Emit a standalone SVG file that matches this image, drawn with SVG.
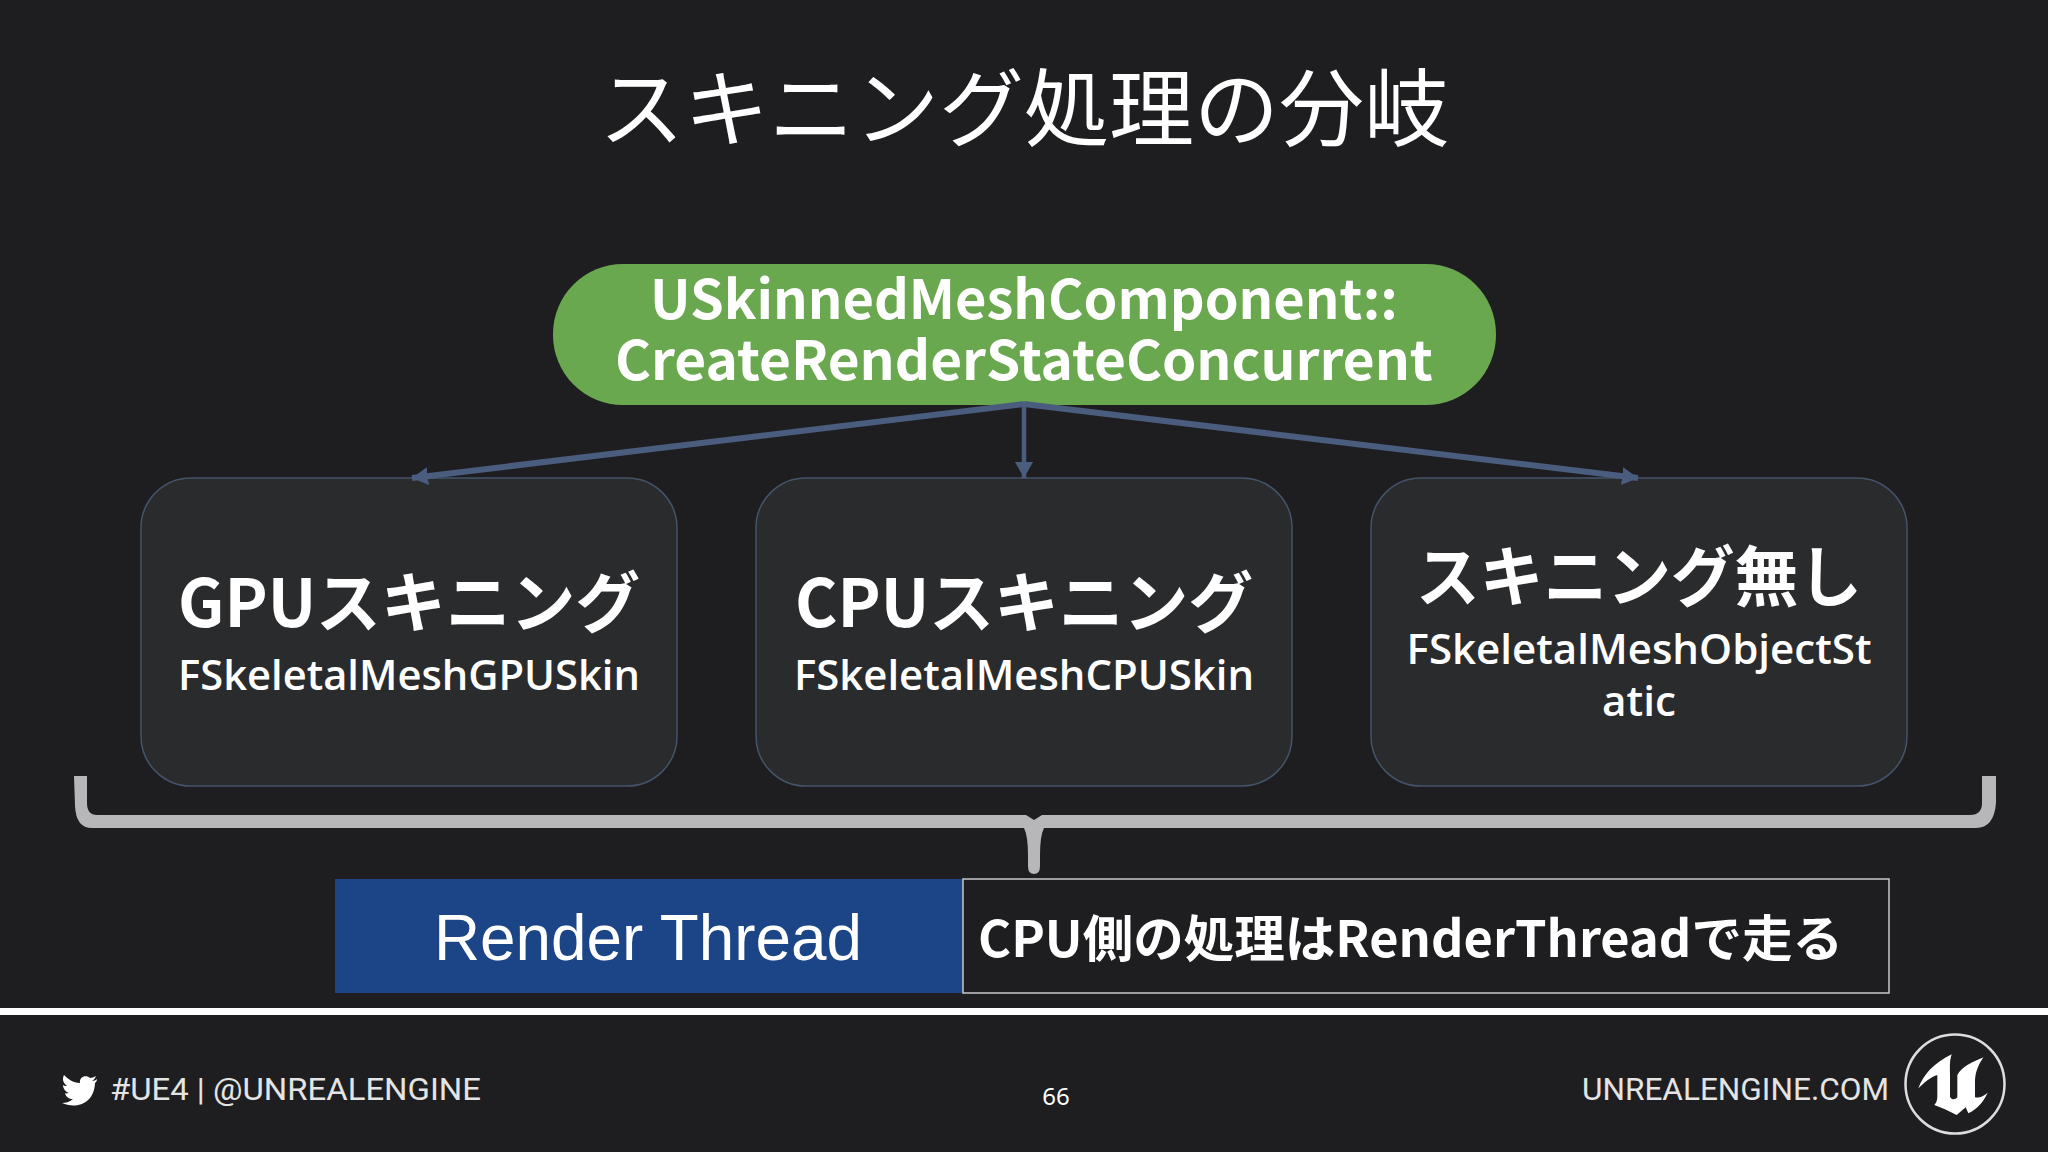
<svg xmlns="http://www.w3.org/2000/svg" width="2048" height="1152" viewBox="0 0 2048 1152">
<style>
text{fill:#fff;font-family:"Noto Sans CJK JP","Noto Sans",sans-serif}
.b{font-weight:700}
.m{text-anchor:middle}
.box{fill:#2a2b2d;stroke:#44546a;stroke-width:1.5}
.h{font-size:66px;font-weight:700;text-anchor:middle}
.s{font-size:41px;font-weight:600;text-anchor:middle;font-family:"Open Sans","Noto Sans",sans-serif}
.f{font-family:"Roboto","Liberation Sans",sans-serif;font-size:32px;fill:#e4e4e4}
.c{fill:none;stroke:#4a5d7e}
</style>
<defs>
<marker id="a" markerUnits="userSpaceOnUse" markerWidth="18" markerHeight="20" refX="16" refY="10" orient="auto"><path d="M0 1L16 10L0 19Z" fill="#4a5d7e"/></marker>
</defs>
<rect width="2048" height="1152" fill="#1e1e20"/>
<text id="title" class="m" x="1024" y="140" font-size="85">スキニング処理の分岐</text>
<g id="root">
<rect x="553" y="264" width="943" height="141" rx="70" fill="#6aa84f"/>
<text class="m b" x="1024" y="319" font-size="54" textLength="748" lengthAdjust="spacingAndGlyphs">USkinnedMeshComponent::</text>
<text class="m b" x="1024" y="380" font-size="54" textLength="818" lengthAdjust="spacingAndGlyphs">CreateRenderStateConcurrent</text>
</g>
<g id="gpu">
<rect class="box" x="141" y="478" width="536" height="308" rx="50"/>
<text class="h" x="409" y="627" textLength="462" lengthAdjust="spacingAndGlyphs">GPUスキニング</text>
<text class="s" x="409" y="690" textLength="462" lengthAdjust="spacingAndGlyphs">FSkeletalMeshGPUSkin</text>
</g>
<g id="cpu">
<rect class="box" x="756" y="478" width="536" height="308" rx="50"/>
<text class="h" x="1024" y="627" textLength="458" lengthAdjust="spacingAndGlyphs">CPUスキニング</text>
<text class="s" x="1024" y="690" textLength="460" lengthAdjust="spacingAndGlyphs">FSkeletalMeshCPUSkin</text>
</g>
<g id="none">
<rect class="box" x="1371" y="478" width="536" height="308" rx="50"/>
<text class="h" x="1639" y="601" textLength="446" lengthAdjust="spacingAndGlyphs">スキニング無し</text>
<text class="s" x="1639" y="664" textLength="465" lengthAdjust="spacingAndGlyphs">FSkeletalMeshObjectSt</text>
<text class="s" x="1639" y="716" textLength="74" lengthAdjust="spacingAndGlyphs">atic</text>
</g>
<g id="connectors">
<path class="c" stroke-width="6" marker-end="url(#a)" d="M1024 404L412 478"/>
<path class="c" stroke-width="6" marker-end="url(#a)" d="M1024 404L1638 478"/>
<path class="c" stroke-width="4.5" marker-end="url(#a)" d="M1024 404V478"/>
</g>
<g id="brace">
<path fill="#b7b6b8" d="M74 776H87V803Q87 815 97 815H1026L1034 820L1042 815H1970Q1982 815 1982 803V776H1996V803Q1994 828 1976 828H1044Q1040 836 1040 855V866Q1040 874 1034 874Q1028 874 1028 866V855Q1028 836 1024 828H92Q76 828 75 806Z"/>
</g>
<g id="thread">
<rect x="335" y="879" width="628" height="114" fill="#1c4587"/>
<text class="m" x="648" y="960" font-size="64" textLength="428" lengthAdjust="spacingAndGlyphs" style="font-family:'Liberation Sans',sans-serif">Render Thread</text>
</g>
<g id="note">
<rect x="963" y="879" width="926" height="114" fill="none" stroke="#c8c8c8" stroke-width="1.5"/>
<text class="b" x="978" y="957" font-size="50" textLength="865" lengthAdjust="spacingAndGlyphs">CPU側の処理はRenderThreadで走る</text>
</g>
<rect x="0" y="1008" width="2048" height="7" fill="#fff"/>
<path id="bird" fill="#fff" d="M97 1079c-1 1-3 2-5 2 2-1 3-3 4-5-2 1-4 2-6 2-4-4-11-1-10 5-7 0-12-4-16-8-2 4-1 8 3 11-1 0-3 0-4-1 0 4 3 7 6 8-1 0-3 1-4 0 1 4 4 6 8 6-4 3-7 4-11 4 13 6 32 2 33-20 1-1 2-2 2-4z"/>
<text class="f" x="110" y="1100" textLength="371" lengthAdjust="spacingAndGlyphs">#UE4 | @UNREALENGINE</text>
<text x="1056" y="1105" font-size="24" class="m" style="font-family:'Noto Sans',sans-serif">66</text>
<text class="f" x="1582" y="1100" textLength="307" lengthAdjust="spacingAndGlyphs">UNREALENGINE.COM</text>
<g id="logo">
<circle cx="1955" cy="1084" r="49.5" fill="none" stroke="#ddd" stroke-width="2.5"/>
<path transform="translate(1900 1020) scale(.3333)" fill="#fff" d="M55 205C70 165 100 130 155 103C148 125 150 140 150 165L150 230C155 240 165 240 172 232L172 165C185 140 220 125 250 112C232 140 225 160 225 190L225 232C240 235 250 228 263 218C250 245 235 265 205 280L197 262L170 285L135 268L103 255C112 245 112 235 112 225L112 165C95 170 75 185 55 205Z"/>
</g>
</svg>
